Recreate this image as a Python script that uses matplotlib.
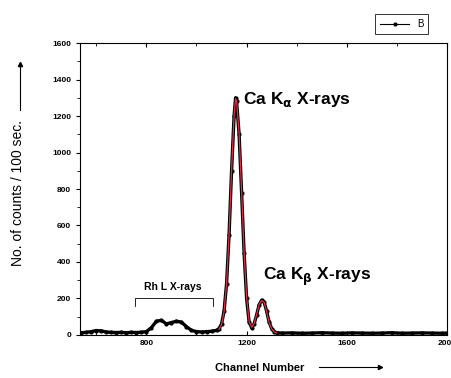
import numpy as np
import matplotlib.pyplot as plt
from matplotlib.lines import Line2D

plt.rcParams['font.family'] = ['Liberation Sans', 'DejaVu Sans']

# spectrum (channel, counts)
channels = [540, 560, 580, 600, 620, 640, 660, 680, 700, 720, 740, 760, 780,
            800, 820, 840, 860, 880, 900, 920, 940, 960, 980, 1000, 1020,
            1040, 1060, 1080, 1090, 1100, 1110, 1120, 1130, 1140, 1150, 1156,
            1160, 1170, 1180, 1190, 1200, 1210, 1220, 1230, 1240, 1250, 1260,
            1270, 1280, 1290, 1300, 1310, 1320, 1340, 1380, 1420, 1460, 1500,
            1540, 1580, 1620, 1660, 1700, 1740, 1780, 1820, 1860, 1900, 1940,
            1980, 2000]
counts = [12, 14, 18, 24, 22, 16, 14, 13, 14, 12, 14, 13, 15,
          18, 40, 75, 80, 60, 68, 75, 70, 45, 25, 18, 16,
          18, 20, 25, 35, 60, 130, 280, 550, 900, 1200, 1300,
          1280, 1100, 780, 450, 200, 70, 40, 60, 110, 165, 190,
          180, 130, 70, 35, 18, 12, 10, 11, 9, 10, 12,
          10, 9, 11, 10, 9, 10, 12, 9, 10, 11, 10,
          9, 10]

# fitted curve over the Ca K peaks
fit_ch = [1090, 1100, 1110, 1120, 1130, 1140, 1150, 1156, 1160, 1170, 1180,
          1190, 1200, 1210, 1220, 1230, 1240, 1250, 1260, 1270, 1280, 1290,
          1300, 1310, 1320]
fit_counts = [30, 58, 128, 282, 552, 905, 1205, 1295, 1282, 1105, 785,
              452, 205, 75, 42, 62, 112, 166, 189, 178, 128, 68,
              33, 16, 11]

fig = plt.figure(figsize=(4.52, 3.78), dpi=100)
ax = fig.add_axes([0.177, 0.114, 0.812, 0.772])

ax.plot(channels, counts, color='black', lw=2.4, marker='o', ms=2, zorder=2)
ax.plot(fit_ch, fit_counts, color='#e0304a', lw=0.9, zorder=3)

ax.set_xlim(535, 2000)
ax.set_ylim(0, 1600)
ax.set_xticks([800, 1200, 1600, 2000])
ax.set_xticks([600, 1000, 1400, 1800], minor=True)
ax.set_yticks(range(0, 1601, 200))
ax.set_yticks(range(100, 1600, 200), minor=True)
ax.tick_params(labelsize=6, width=0.8, length=3)
ax.tick_params(which='minor', length=2)
ax.tick_params(top=True, which='both', direction='in', axis='x')
for lab in ax.get_xticklabels() + ax.get_yticklabels():
    lab.set_fontweight('bold')

ax.text(1185, 1290, r'Ca K$_{\mathbf{\alpha}}$ X-rays', fontsize=12.5,
        fontweight='bold', va='center')
ax.text(1265, 320, r'Ca K$_{\mathbf{\beta}}$ X-rays', fontsize=12.5,
        fontweight='bold', va='center')
ax.text(905, 245, 'Rh L X-rays', fontsize=7.5, fontweight='bold', ha='center')
ax.plot([755, 755, 1065, 1065], [160, 200, 200, 160], color='black', lw=0.6)

fig.text(0.575, 0.018, 'Channel Number', fontsize=8, fontweight='bold',
         ha='center')
fig.add_artist(Line2D([0.705, 0.84], [0.03, 0.03], color='black', lw=0.8))
fig.add_artist(Line2D([0.84], [0.03], color='black', marker='>', ms=3))

fig.text(0.04, 0.49, 'No. of counts / 100 sec.', fontsize=10, rotation=90,
         ha='center', va='center')
fig.add_artist(Line2D([0.045, 0.045], [0.71, 0.83], color='black', lw=0.8))
fig.add_artist(Line2D([0.045], [0.83], color='black', marker='^', ms=3))

handle = Line2D([], [], color='black', lw=0.8, ls='-', marker='o', ms=2)
leg = fig.legend([handle], ['B'], loc='upper right',
                 bbox_to_anchor=(0.958, 0.975), fontsize=7, frameon=True,
                 fancybox=False, edgecolor='black', handlelength=3,
                 borderpad=0.5)
leg.get_frame().set_linewidth(0.7)

fig.savefig('out.png', dpi=100)
